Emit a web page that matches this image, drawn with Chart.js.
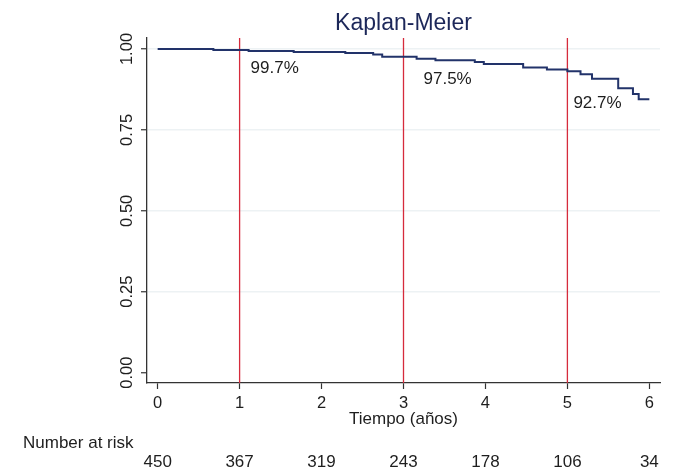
<!DOCTYPE html>
<html>
<head>
<meta charset="utf-8">
<title>Kaplan-Meier</title>
<script src="https://cdn.jsdelivr.net/npm/chart.js@4.4.1/dist/chart.umd.min.js"></script>
<style>
  html, body { margin: 0; padding: 0; background: #fff; }
  #wrap { width: 682px; height: 469px; position: relative; }
</style>
</head>
<body>
<div id="wrap"><canvas id="kmChart"></canvas></div>
<script>
// survival estimate (one entry per step)
const eventYears = [0, 0.68, 1.11, 1.66, 2.29, 2.63, 2.74, 3.16, 3.39, 3.87, 3.98, 4.46, 4.75, 5.00, 5.16, 5.30, 5.62, 5.80, 5.87, 6.00];
const survival   = [1.0, 0.997, 0.994, 0.991, 0.988, 0.983, 0.976, 0.970, 0.965, 0.960, 0.954, 0.943, 0.937, 0.931, 0.922, 0.908, 0.879, 0.861, 0.845, 0.845];

// reference years with the survival printed next to them
const markYears = [1, 3, 5];
const markPct = [99.7, 97.5, 92.7];

const yearTicks = [0, 1, 2, 3, 4, 5, 6];
const numberAtRisk = [450, 367, 319, 243, 178, 106, 34];
const survTicks = [0, 0.25, 0.5, 0.75, 1];

const X_MIN = -0.13, X_MAX = 6.13;
const Y_MIN = -0.032, Y_MAX = 1.034;

const FONT = '"Liberation Sans", Arial, Helvetica, sans-serif';
const NAVY = '#22336a';
const RED = '#d62b3c';
const INK = '#1e1e1e';

// text offsets (px) of the percent labels from their point on the curve
const pctOffsets = [[11, 18], [20, 22], [6, 31]];

const textLayer = {
    id: 'textLayer',
    afterDatasetsDraw(chart) {
        const { ctx, scales: { x, y } } = chart;
        ctx.save();
        ctx.font = '17px ' + FONT;
        ctx.fillStyle = INK;
        ctx.textAlign = 'left';
        ctx.textBaseline = 'middle';
        markYears.forEach((yr, i) => {
            const [dx, dy] = pctOffsets[i];
            ctx.fillText(markPct[i].toFixed(1) + '%',
                x.getPixelForValue(yr) + dx,
                y.getPixelForValue(markPct[i] / 100) + dy);
        });

        ctx.fillText('Number at risk', 23, 443);
        ctx.textAlign = 'center';
        numberAtRisk.forEach((n, i) => {
            ctx.fillText(String(n), x.getPixelForValue(yearTicks[i]), 462);
        });
        ctx.restore();
    }
};

const datasets = [{
    label: 'Kaplan-Meier',
    data: eventYears.map((t, i) => ({ x: t, y: survival[i] })),
    stepped: 'before',
    borderColor: NAVY,
    borderWidth: 2,
    pointRadius: 0,
    fill: false
}].concat(markYears.map(yr => ({
    label: 'year ' + yr,
    data: [{ x: yr, y: Y_MIN }, { x: yr, y: Y_MAX }],
    borderColor: RED,
    borderWidth: 1.3,
    pointRadius: 0,
    fill: false
})));

new Chart(document.getElementById('kmChart'), {
    type: 'line',
    data: { datasets },
    options: {
        responsive: true,
        maintainAspectRatio: false,
        animation: false,
        layout: { padding: { left: 0, right: 22, top: 0, bottom: 0 } },
        plugins: {
            legend: { display: false },
            tooltip: { enabled: false },
            title: {
                display: true,
                text: 'Kaplan-Meier',
                fullSize: false,
                color: '#1c2759',
                font: { family: FONT, size: 23, weight: 'normal' },
                padding: { top: 10, bottom: 0.4 }
            }
        },
        scales: {
            x: {
                type: 'linear',
                min: X_MIN,
                max: X_MAX,
                afterBuildTicks: s => { s.ticks = yearTicks.map(v => ({ value: v })); },
                afterFit: s => { s.height = 86; },
                ticks: {
                    color: INK,
                    padding: 5,
                    font: { family: FONT, size: 16.5 },
                    callback: v => String(v)
                },
                grid: {
                    drawOnChartArea: false,
                    tickLength: 6,
                    tickColor: '#333',
                    tickWidth: 1.2
                },
                border: { color: '#333', width: 1.3 },
                title: {
                    display: true,
                    text: 'Tiempo (años)',
                    color: INK,
                    font: { family: FONT, size: 17 },
                    padding: { top: 0, bottom: 39 }
                }
            },
            y: {
                min: Y_MIN,
                max: Y_MAX,
                afterBuildTicks: s => { s.ticks = survTicks.map(v => ({ value: v })); },
                afterFit: s => { s.width = 147; },
                ticks: {
                    color: INK,
                    padding: -3,
                    minRotation: 90,
                    maxRotation: 90,
                    crossAlign: 'center',
                    font: { family: FONT, size: 16.5 },
                    callback: v => v.toFixed(2)
                },
                grid: {
                    color: c => (c.tick && c.tick.value === 0) ? 'rgba(0,0,0,0)' : '#edf2f4',
                    lineWidth: 1.5,
                    tickLength: 6,
                    tickColor: '#333',
                    tickWidth: 1.2
                },
                border: { color: '#333', width: 1.3 }
            }
        }
    },
    plugins: [textLayer]
});
</script>
</body>
</html>
